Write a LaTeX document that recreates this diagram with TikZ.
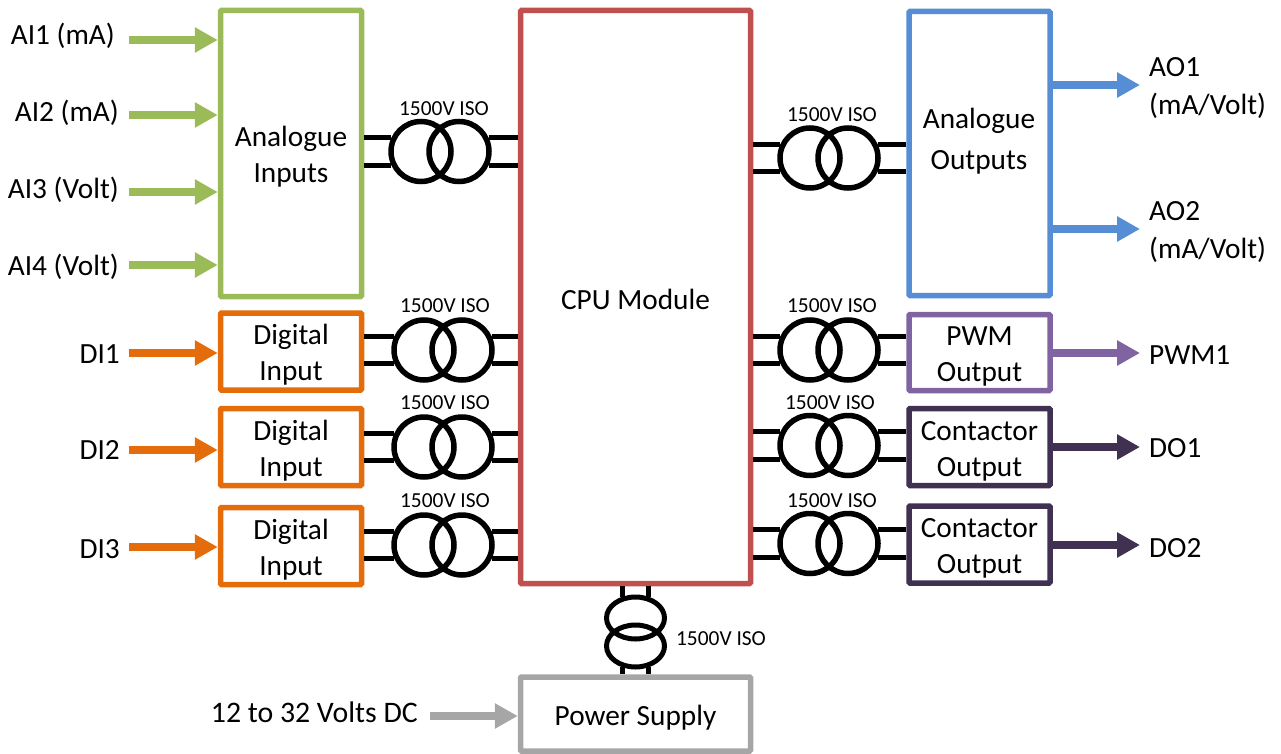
\documentclass[tikz,border=0pt]{standalone}
\usepackage{fontspec}
\setmainfont{Carlito}
\usetikzlibrary{arrows.meta,shapes.geometric,positioning,calc}
\definecolor{isoGreen}  {RGB}{155, 187,  89}
\definecolor{isoRed}    {RGB}{192,  80,  77}
\definecolor{isoBlue}   {RGB}{ 85, 142, 213}
\definecolor{isoOrange} {RGB}{228, 108,  10}
\definecolor{isoPurple} {RGB}{128, 100, 162}
\definecolor{isoDark}   {RGB}{ 64,  49,  82}
\definecolor{isoGray}   {RGB}{166, 166, 166}
\newcommand{\toprule}{\rule{0pt}{27pt}}
\tikzset{
  block/.style={draw=#1,line width=5.5pt,rounded corners=1pt,inner sep=0pt,align=center,
    minimum width=141pt,font=\fontsize{29.3}{36}\selectfont},
  sig/.style={#1,line width=7.5pt,-{Triangle[length=23pt,width=24pt]}},
  wire/.style={black,line width=5pt},
  coil/.style={circle,draw=black,line width=5.5pt,minimum size=60pt,inner sep=0pt},
  lab/.style={font=\fontsize{29.3}{36}\selectfont,inner sep=0pt,align=left},
  iso/.style={font=\fontsize{21.4}{24}\selectfont,inner sep=0pt}
}
\begin{document}
\begin{tikzpicture}[x=1pt,y=-1pt]
  \useasboundingbox (0,0) rectangle (1281,754);
  % Blocks
  \node[block=isoGreen,minimum height=286pt] (ai) at (291,153.5) {\toprule Analogue\\Inputs};
  \node[block=isoRed,minimum width=230pt,minimum height=573pt] (cpu) at (635.5,297) {\rule{0pt}{25pt}CPU Module};
  \node[block=isoBlue,minimum height=284pt] (ao) at (979.5,153.5) {};
  \node[lab,align=center,font=\fontsize{29.3}{41}\selectfont] (aotext) at (979,141) {Analogue\\Outputs};
  \foreach \name/\y in {di1/351.5,di2/447,di3/546}{
    \node[block=isoOrange,minimum height=77pt] (\name) at (291,\y) {\toprule Digital\\Input};
  }
  \node[block=isoPurple,minimum height=76pt] (pwm) at (979.5,352.5) {\toprule PWM\\Output};
  \node[block=isoDark,minimum height=77pt] (do1) at (979.5,447) {\toprule Contactor\\Output};
  \node[block=isoDark,minimum height=77pt] (do2) at (979.5,544.5) {\toprule Contactor\\Output};
  \node[block=isoGray,minimum width=230pt,minimum height=74pt] (psu) at (635.5,714) {\toprule Power Supply};
  % Inputs
  \foreach \name/\blk/\col/\lx/\ly/\y/\lab in {
    ai1/ai/isoGreen/115/36/40/AI1 (mA),
    ai2/ai/isoGreen/119/113/115/AI2 (mA),
    ai3/ai/isoGreen/119/190/192/AI3 (Volt),
    ai4/ai/isoGreen/119/267/265/AI4 (Volt),
    di1/di1/isoOrange/120/354/353/DI1,
    di2/di2/isoOrange/120/450/450/DI2,
    di3/di3/isoOrange/120/549/547/DI3}{
    \node[lab,anchor=east] (\name lab) at (\lx,\ly) {\lab};
    \coordinate (\name in) at (129,\y);
    \draw[sig=\col] (\name in) -- (\name in -| \blk.west);
  }
  \node[lab,anchor=east,font=\fontsize{29.8}{36}\selectfont] (dclab) at (418,712) {12 to 32 Volts DC};
  \coordinate (dcin) at (430,716);
  \draw[sig=isoGray] (dcin) -- (dcin -| psu.west);
  % Outputs
  \foreach \blk/\col/\y in {
    ao/isoBlue/85,
    ao/isoBlue/229,
    pwm/isoPurple/353,
    do1/isoDark/447,
    do2/isoDark/545}{
    \coordinate (\blk out\y) at (1140,\y);
    \draw[sig=\col] (\blk out\y -| \blk.east) -- (\blk out\y);
  }
  \node[lab,anchor=west] (pwmlab) at (1149,355) {PWM1};
  \node[lab,anchor=west] (do1lab) at (1149,448) {DO1};
  \node[lab,anchor=west] (do2lab) at (1149,548) {DO2};
  \node[lab,anchor=west,font=\fontsize{29.3}{38}\selectfont] (ao1lab) at (1149,88) {AO1\\(mA/Volt)};
  \node[lab,anchor=west,font=\fontsize{29.3}{38}\selectfont] (ao2lab) at (1149,232) {AO2\\(mA/Volt)};
  % Isolation
  \foreach \tx/\lt/\rt/\cx/\cy/\lx/\ly in {
    t1/ai/cpu/440/151.5/444/109,
    t2/di1/cpu/443/350/445/306,
    t3/di2/cpu/443/447/445/403,
    t4/di3/cpu/443/545/445/501,
    t5/cpu/ao/829/158/832/115,
    t6/cpu/pwm/829/350/832/306,
    t7/cpu/do1/829/445.5/830/403,
    t8/cpu/do2/829/543.5/832/501}{
    \node[coil] (\tx a) at (\cx-19,\cy) {};
    \node[coil] (\tx b) at (\cx+19,\cy) {};
    \node[iso] (\tx lab) at (\lx,\ly) {1500V ISO};
    \draw[wire] (\tx a.155) -- (\tx a.155 -| \lt.east);
    \draw[wire] (\tx a.205) -- (\tx a.205 -| \lt.east);
    \draw[wire] (\tx b.25) -- (\tx b.25 -| \rt.west);
    \draw[wire] (\tx b.335) -- (\tx b.335 -| \rt.west);
  }
  \node[coil,ellipse,minimum width=58pt,minimum height=42pt,line width=5pt] (psa) at (635.5,618) {};
  \node[coil,ellipse,minimum width=58pt,minimum height=42pt,line width=5pt] (psb) at (635.5,646) {};
  \node[iso] (pslab) at (721,639) {1500V ISO};
  \draw[wire] (psa.122) -- (psa.122 |- cpu.south);
  \draw[wire] (psa.58) -- (psa.58 |- cpu.south);
  \draw[wire] (psb.238) -- (psb.238 |- psu.north);
  \draw[wire] (psb.302) -- (psb.302 |- psu.north);
\end{tikzpicture}
\end{document}
